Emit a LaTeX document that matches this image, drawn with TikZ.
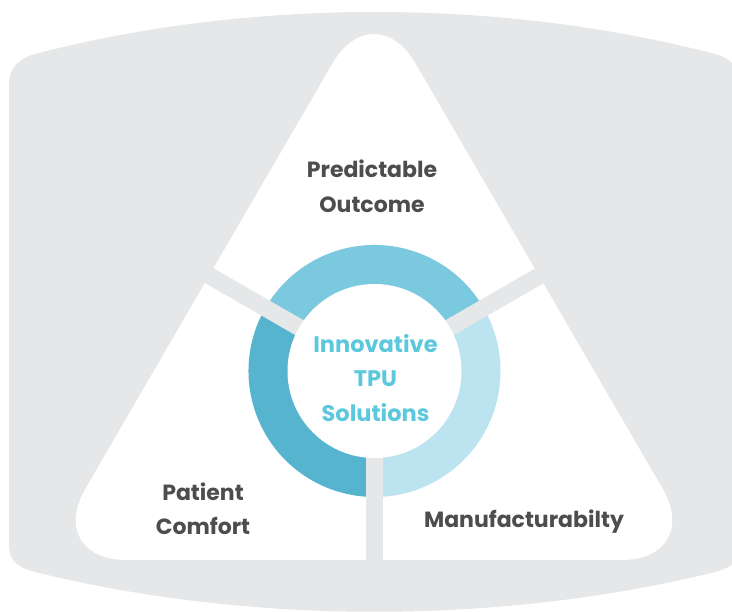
\documentclass[tikz,border=0pt]{standalone}
\usepackage{fontspec}
\setmainfont{Poppins}
\definecolor{bgrey}{HTML}{E6E7E8}
\definecolor{ringtop}{HTML}{7AC9DF}
\definecolor{ringleft}{HTML}{56B4CF}
\definecolor{ringright}{HTML}{BCE3F0}
\definecolor{labeltxt}{HTML}{4D4D4F}
\definecolor{centertxt}{HTML}{5CC8DD}
\tikzset{
  lbl/.style={anchor=base, text=labeltxt, font=\fontsize{22}{26}\selectfont\bfseries, inner sep=0pt},
  ctr/.style={anchor=base, text=centertxt, font=\fontsize{22.5}{26}\selectfont\bfseries, inner sep=0pt},
  bar/.style={draw=bgrey, line width=17pt},
}
\begin{document}
\begin{tikzpicture}[x=1pt,y=-1pt]
\useasboundingbox (0,0) rectangle (732,612);
\clip (0,0) rectangle (732,612);
% background panel
\fill[bgrey] (9,85) .. controls (9,66) and (21,58) .. (35,54)
  .. controls (250,-2) and (500,-2) .. (715,54)
  .. controls (729,58) and (741,66) .. (741,85)
  -- (741,545) .. controls (741,562) and (730,568) .. (715,572)
  .. controls (500,625) and (250,625) .. (35,572)
  .. controls (20,568) and (9,562) .. (9,545) -- cycle;
% rounded triangle
\fill[white, rounded corners=83pt] (374,560) -- (704,560) -- (374,-8) -- (44,560) -- cycle;
% ring
\coordinate (C) at (374.5,371);
\fill[ringtop] (C) -- ++(-30:126) arc[start angle=-30, end angle=-150, radius=126] -- cycle;
\fill[ringleft] (C) -- ++(-150:126) arc[start angle=-150, end angle=-270, radius=126] -- cycle;
\fill[ringright] (C) -- ++(90:126) arc[start angle=90, end angle=-30, radius=126] -- cycle;
% separators
\path[bar] (C) -- ++(-150:230);
\path[bar] (C) -- ++(-30:230);
\path[bar] (C) -- ++(90:230);
% inner circle
\fill[white] (C) circle[radius=87];
% labels
\node[lbl] (p1) at (372,178) {Predictable};
\node[lbl] (p2) at (372,213) {Outcome};
\node[lbl] (c1) at (203,501) {Patient};
\node[lbl] (c2) at (203,535) {Comfort};
\node[lbl] (m1) at (524,528) {Manufacturabilty};
\node[ctr] (i1) at (375.5,353) {Innovative};
\node[ctr] (i2) at (375.5,387) {TPU};
\node[ctr] (i3) at (375.5,422) {Solutions};
\end{tikzpicture}
\end{document}
